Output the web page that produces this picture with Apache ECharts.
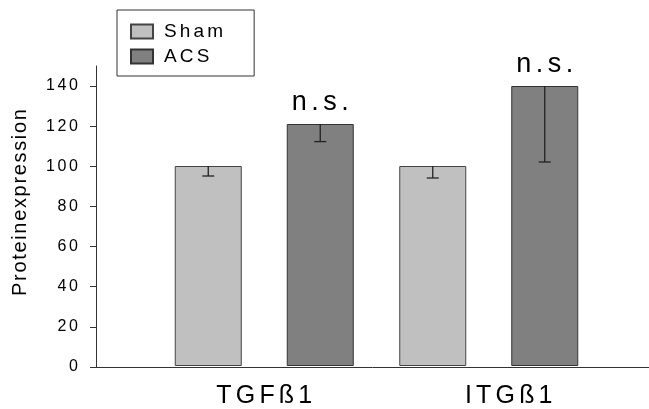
<!DOCTYPE html>
<html>
<head>
<meta charset="utf-8">
<script src="https://cdn.jsdelivr.net/npm/echarts@6/dist/echarts.min.js"></script>
<style>
  html, body { margin: 0; padding: 0; background: #fff; }
  #chart { width: 649px; height: 409px; }
</style>
</head>
<body>
<div id="chart"></div>
<script>
// data
var categories = ['TGFß1', 'ITGß1'];
var shamMean = [100, 100];
var shamErr = [5, 6];
var acsMean = [121, 140];
var acsErr = [8.8, 38];
var sigLabels = ['n.s.', 'n.s.'];
var yTicks = [0, 20, 40, 60, 80, 100, 120, 140];

var FONT = 'Liberation Sans, Arial, sans-serif';
var BAR_W = 67, BAR_GAP = 45;

// the original text is letter spaced, hair spaces fake that
function spaced(s, n) {
    var sep = n === 1 ? '\u200A' : '\u200A\u200A';
    return String(s).split('').join(sep);
}

// error bar only drawn downward from bar top
function errorSeries(means, errs, side) {
    var data = means.map(function (m, i) { return [i, m, m - errs[i]]; });
    return {
        type: 'custom',
        xAxisIndex: 0,
        yAxisIndex: 0,
        z: 5,
        data: data,
        renderItem: function (params, api) {
            var top = api.coord([api.value(0), api.value(1)]);
            var low = api.coord([api.value(0), api.value(2)]);
            var x = top[0] + side * (BAR_W + BAR_GAP) / 2;
            var cap = 6;
            var st = { stroke: '#222', lineWidth: 1.3 };
            return {
                type: 'group',
                children: [
                    { type: 'line', shape: { x1: x, y1: top[1], x2: x, y2: low[1] }, style: st },
                    { type: 'line', shape: { x1: x - cap, y1: low[1], x2: x + cap, y2: low[1] }, style: st }
                ]
            };
        }
    };
}

var chart = echarts.init(document.getElementById('chart'));
var option = {
    backgroundColor: '#fff',
    animation: false,
    textStyle: { fontFamily: FONT, color: '#000' },
    legend: {
        orient: 'vertical',
        left: 117,
        top: 10,
        padding: [12, 31, 10, 13],
        itemWidth: 22,
        itemHeight: 14,
        itemGap: 6,
        icon: 'rect',
        borderColor: '#333',
        borderWidth: 1,
        data: ['Sham', 'ACS'],
        formatter: function (n) { return spaced(n); },
        textStyle: { fontFamily: FONT, fontSize: 19, color: '#000', padding: [0, 0, 0, 6] }
    },
    grid: [
        { left: 152, right: 48, top: 66, bottom: 42 },   // bars
        { left: 96, right: 0, top: 66, bottom: 42 }      // axis frame
    ],
    xAxis: [
        {
            type: 'category',
            gridIndex: 0,
            data: categories,
            axisLine: { show: false },
            axisTick: { show: false },
            axisLabel: {
                margin: 18,
                fontFamily: FONT,
                fontSize: 25,
                color: '#000',
                // second label sits a bit right of its bars in the original
                formatter: function (v, i) {
                    return i === 1 ? '{r|' + spaced(v) + '}' : spaced(v);
                },
                rich: {
                    r: { fontFamily: FONT, fontSize: 25, color: '#000', padding: [0, 0, 4, 40] }
                }
            }
        },
        {
            type: 'value',
            gridIndex: 1,
            min: 0,
            max: 1,
            axisLine: { show: true, lineStyle: { color: '#333', width: 1 } },
            axisTick: { show: false },
            axisLabel: { show: false },
            splitLine: { show: false }
        }
    ],
    yAxis: [
        {
            type: 'value',
            gridIndex: 0,
            min: 0,
            max: 150,
            show: false
        },
        {
            type: 'value',
            gridIndex: 1,
            min: 0,
            max: 150,
            interval: 10,
            name: spaced('Proteinexpression', 1),
            nameLocation: 'middle',
            nameGap: 66,
            nameTextStyle: { fontFamily: FONT, fontSize: 20, color: '#000', padding: [0, 0, 0, 28] },
            axisLine: { show: true, lineStyle: { color: '#333', width: 1 } },
            axisTick: { show: true, length: 6, customValues: yTicks, lineStyle: { color: '#333' } },
            axisLabel: {
                margin: 18,
                fontFamily: FONT,
                fontSize: 16,
                color: '#000',
                customValues: yTicks,
                formatter: function (v) { return spaced(v); }
            },
            splitLine: { show: false }
        }
    ],
    series: [
        {
            name: 'Sham',
            type: 'bar',
            xAxisIndex: 0,
            yAxisIndex: 0,
            barWidth: BAR_W,
            barGap: (BAR_GAP / BAR_W * 100) + '%',
            data: shamMean,
            itemStyle: { color: '#c0c0c0', borderColor: '#444', borderWidth: 1 }
        },
        {
            name: 'ACS',
            type: 'bar',
            xAxisIndex: 0,
            yAxisIndex: 0,
            barWidth: BAR_W,
            data: acsMean,
            itemStyle: { color: '#808080', borderColor: '#333', borderWidth: 1 },
            label: {
                show: true,
                position: 'top',
                distance: 8,
                fontFamily: FONT,
                fontSize: 27,
                color: '#000',
                formatter: function (p) { return spaced(sigLabels[p.dataIndex]); }
            }
        },
        errorSeries(shamMean, shamErr, -1),
        errorSeries(acsMean, acsErr, 1)
    ]
};
chart.setOption(option);
</script>
</body>
</html>
